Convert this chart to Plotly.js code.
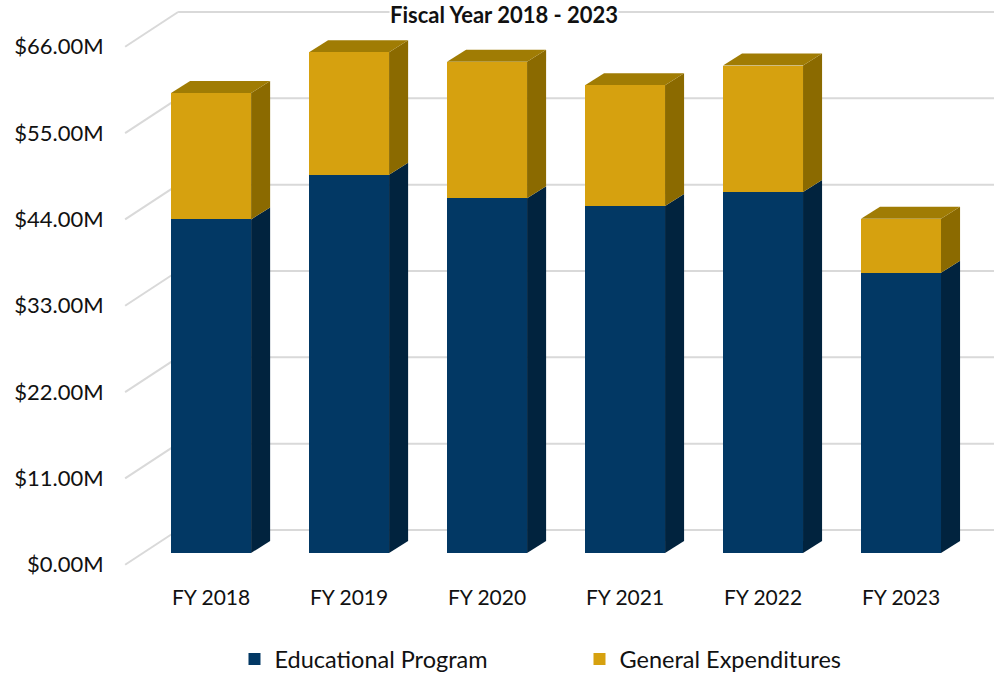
<!DOCTYPE html>
<html>
<head>
<meta charset="utf-8">
<script src="https://cdn.plot.ly/plotly-3.0.1.min.js"></script>
<style>
html,body{margin:0;padding:0;background:#fff;}
#chart{width:994px;height:677px;}
</style>
</head>
<body>
<div id="chart"></div>
<script>
// ---- data ----
const categories = ['FY 2018', 'FY 2019', 'FY 2020', 'FY 2021', 'FY 2022', 'FY 2023'];
const educational = [42.5, 48.2, 45.2, 44.2, 46.0, 35.7];
const general = [16.1, 15.6, 17.4, 15.4, 16.1, 6.9];
const yTicks = [0, 11, 22, 33, 44, 55, 66];
const yTickLabels = ['$0.00M', '$11.00M', '$22.00M', '$33.00M', '$44.00M', '$55.00M', '$66.00M'];
const seriesNames = ['Educational Program', 'General Expenditures'];

// ---- style / geometry ----
const FONT = 'Lato, "Open Sans", sans-serif';
const colEduFront = '#023864', colEduSide = '#01233e';
const colGenFront = '#d6a10f', colGenSide = '#8b6a00', colGenTop = '#a07c04';
const barW = 0.58;
const dX = 0.138, dY = 1.53;          // bar depth offset (data units)
const backX = -0.239, backDY = 2.93;  // back wall corner / offset from bar plane
const frontX = -0.623, frontDY = -1.5; // front edge of left wall
const xMin = -0.66, xMax = 5.674;
const yMin = -2.17, yMax = 70.46;

const xs = categories.map((c, i) => i);
const totals = educational.map((v, i) => v + general[i]);

const traces = [
  {type: 'bar', x: xs, y: educational, name: seriesNames[0], width: barW,
   marker: {color: colEduFront, line: {width: 0}}, hoverinfo: 'y'},
  {type: 'bar', x: xs, y: general, name: seriesNames[1], width: barW,
   marker: {color: colGenFront, line: {width: 0}}, hoverinfo: 'y'},
  {type: 'scatter', x: yTicks.map(() => xMin), y: yTicks, yaxis: 'y2', mode: 'none',
   showlegend: false, hoverinfo: 'skip'}
];

const shapes = [];
const grid = '#d9d9d9';
// back-wall and left-wall gridlines
yTicks.forEach(v => {
  shapes.push({type: 'line', layer: 'below', xref: 'x', yref: 'y',
    x0: backX, y0: v + backDY, x1: xMax, y1: v + backDY, line: {color: grid, width: 2}});
  shapes.push({type: 'line', layer: 'below', xref: 'x', yref: 'y',
    x0: frontX, y0: v + frontDY, x1: backX, y1: v + backDY,
    line: {color: grid, width: 2}});
});
function poly(pts, color) {
  const p = 'M' + pts.map(q => q[0] + ',' + q[1]).join(' L') + ' Z';
  shapes.push({type: 'path', layer: 'below', xref: 'x', yref: 'y', path: p,
    fillcolor: color, line: {width: 0}});
}
xs.forEach((x, i) => {
  const xl = x - barW / 2, xr = x + barW / 2;
  const e = educational[i], t = totals[i];
  poly([[xr, 0], [xr + dX, dY], [xr + dX, e + dY], [xr, e]], colEduSide);
  poly([[xr, e], [xr + dX, e + dY], [xr + dX, t + dY], [xr, t]], colGenSide);
  poly([[xl, t], [xl + dX, t + dY], [xr + dX, t + dY], [xr, t]], colGenTop);
});

const layout = {
  width: 994, height: 677,
  margin: {l: 120, r: 0, t: 0, b: 107, autoexpand: false},
  paper_bgcolor: '#fff', plot_bgcolor: 'rgba(0,0,0,0)',
  barmode: 'stack', bargap: 0,
  font: {family: FONT, color: '#111', size: 21},
  showlegend: true,
  legend: {orientation: 'h', x: 0.131, xanchor: 'left', y: -0.118, yanchor: 'top',
    font: {family: FONT, size: 23.5, color: '#111'}, entrywidth: 300, entrywidthmode: 'pixels',
    traceorder: 'normal'},
  xaxis: {range: [xMin, xMax], tickvals: xs, ticktext: categories, showgrid: false,
    zeroline: false, showline: false, ticks: 'outside', ticklen: 9, tickcolor: 'rgba(0,0,0,0)',
    tickfont: {family: FONT, size: 21, color: '#111'}, fixedrange: true, automargin: false},
  yaxis: {range: [yMin, yMax], showgrid: false, zeroline: false, showline: false,
    showticklabels: false, ticks: '', fixedrange: true, automargin: false},
  yaxis2: {overlaying: 'y', side: 'left', anchor: 'x',
    range: [yMin - frontDY, yMax - frontDY], tickvals: yTicks, ticktext: yTickLabels,
    showgrid: false, zeroline: false, showline: false, ticks: 'outside', ticklen: 11,
    tickcolor: 'rgba(0,0,0,0)', tickfont: {family: FONT, size: 22, color: '#111'},
    fixedrange: true, automargin: false},
  shapes: shapes,
  annotations: [{text: '<b>Fiscal Year 2018 - 2023</b>', xref: 'paper', yref: 'paper',
    x: (504 - 120) / 874, y: 1, xanchor: 'center', yanchor: 'top', yshift: 0,
    bgcolor: '#fff', borderpad: 0,
    showarrow: false, font: {family: FONT, size: 22, color: '#111'}}]
};

Plotly.newPlot('chart', traces, layout, {displayModeBar: false, staticPlot: true});
</script>
</body>
</html>
